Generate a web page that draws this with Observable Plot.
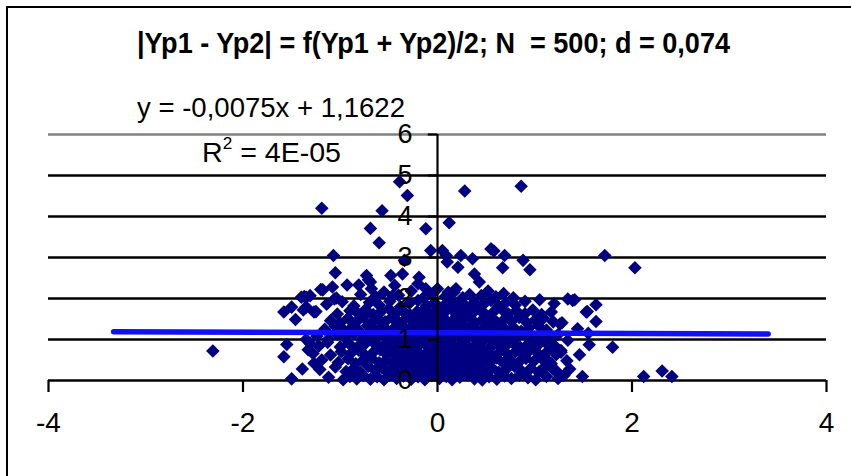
<!DOCTYPE html>
<html><head><meta charset="utf-8">
<script src="https://cdn.jsdelivr.net/npm/d3@7"></script>
<script src="https://cdn.jsdelivr.net/npm/@observablehq/plot@0.6"></script>
<style>
body{margin:0;background:#fff;}
#wrap{position:relative;width:851px;height:476px;overflow:hidden;background:#fff;font-family:"Liberation Sans",Arial,sans-serif;}
#border{position:absolute;left:6px;top:6px;width:900px;height:520px;border:2.5px solid #000;box-sizing:border-box;}
#chart{position:absolute;left:0;top:0;}
.lbl{position:absolute;white-space:nowrap;color:#000;line-height:1;transform-origin:0 0;}
.lbl sup{font-size:0.6em;line-height:0;vertical-align:0.75em;}
</style></head>
<body>
<div id="wrap">
  <div id="border"></div>
  <div id="chart"></div>
  <div id="title" class="lbl" style="left:137px;top:28.5px;font-size:29px;font-weight:bold;">|Yp1 - Yp2| = f(Yp1 + Yp2)/2; N&nbsp; = 500; d = 0,074</div>
  <div id="eq" class="lbl" style="left:137px;top:93px;font-size:28.5px;">y = -0,0075x + 1,1622</div>
  <div id="r2" class="lbl" style="left:201.5px;top:138px;font-size:28.5px;">R<sup>2</sup> = 4E-05</div>
</div>
<script>
// axis ticks
const xTicks = [-4, -2, 0, 2, 4];
const yTicks = [0, 1, 2, 3, 4, 5, 6];
const gridLines = [0, 1, 2, 3, 4, 5];
// linear trendline (from the chart's equation)
const slope = -0.0075;
const intercept = 1.1622;
const trendRange = [-3.33, 3.40];

// outlying / edge points
const edgePoints = [
[-2.31,0.72],[-1.19,4.2],[-0.39,4.85],[-0.31,4.51],[-0.57,4.14],[-0.69,3.71],[-0.6,3.36],[-0.12,3.7],[0.12,3.85],[0.28,4.62],[0.86,4.74],
[-1.07,3.05],[-1.05,2.63],[-0.07,3.17],[0.05,3.17],[0.09,3.05],[0.1,2.89],[0.24,3.05],[0.36,2.97],[0.21,2.76],[0.55,3.21],[0.58,3.16],[0.69,3.05],[0.67,2.75],[0.88,2.93],[0.95,2.7],[1.72,3.05],[2.03,2.75],
[-0.34,2.93],[-0.36,2.6],[-0.19,2.52],[-0.2,2.36],[-0.12,2.24],[0.0,2.24],[0.11,2.15],[0.19,2.24],[0.38,2.6],[0.43,2.4],
[-0.73,2.56],[-0.71,2.46],[-0.69,2.4],[-0.93,2.33],[-0.81,2.33],[-1.08,2.28],[-1.2,2.22],[-1.06,1.99],[-0.68,2.24],[-0.63,2.03],[-0.48,2.56],[-0.44,2.32],[-0.46,2.07],
[-1.37,2.05],[-1.35,1.79],[-1.27,1.67],[-1.58,1.67],[-1.5,1.79],[-1.46,1.49],[-1.4,2.03],[-1.35,2.03],[-1.38,1.72],[-1.55,0.88],[-1.58,0.58],[-1.5,0.04],[-1.39,0.28],[-1.35,1.0],[-1.31,2.07],[-1.25,1.68],[-1.31,0.9],[-1.33,0.75],[-1.27,0.42],[-1.18,2.21],
[1.05,1.97],[1.17,1.67],[1.26,1.38],[1.34,1.99],[1.27,0.69],[1.15,0.45],[1.22,0.24],[1.39,1.95],[1.53,1.67],[1.63,1.85],[1.63,1.44],[1.44,1.26],[1.55,1.15],[1.34,0.98],[1.56,0.87],[1.8,0.81],[1.46,0.63],[1.36,0.28],[1.49,0.1],[2.12,0.1],[2.31,0.23],[2.41,0.1],[1.28,1.41],[1.41,1.97],[1.54,1.68],[1.27,0.73]
];

// main cloud of points
const cloudPoints = [
[-1.12,0.08],[-0.97,0.02],[-0.9,0.1],[-0.83,0.04],[-0.76,0.12],[-0.69,0.03],[-0.62,0.09],[-0.55,0.02],[-0.49,0.13],[-0.42,0.05],[-0.35,0.11],[-0.27,0.03],[-0.2,0.09],[-0.13,0.02],[-0.06,0.12],[0.02,0.05],[0.09,0.1],[0.15,0.02],[0.23,0.08],[0.31,0.13],[0.38,0.04],[0.46,0.01],[0.53,0.09],[0.61,0.03],[0.69,0.11],[0.76,0.05],[0.84,0.13],[0.93,0.07],[1.01,0.02],[1.12,0.1],[1.24,0.05],[1.3,0.12],
[-1.21,0.27],[-1.05,0.33],[-0.94,0.22],[-0.86,0.3],[-0.79,0.2],[-0.71,0.35],[-0.64,0.24],[-0.57,0.31],[-0.51,0.21],[-0.44,0.29],[-0.37,0.36],[-0.3,0.23],[-0.23,0.32],[-0.16,0.2],[-0.09,0.28],[-0.03,0.35],[0.05,0.22],[0.12,0.3],[0.19,0.36],[0.26,0.21],[0.34,0.27],[0.41,0.34],[0.48,0.23],[0.56,0.31],[0.63,0.2],[0.71,0.28],[0.79,0.35],[0.87,0.22],[0.96,0.3],[1.04,0.2],[1.1,0.33],[1.19,0.27],
[-1.19,0.5],[-1.02,0.44],[-0.92,0.53],[-0.84,0.41],[-0.77,0.49],[-0.68,0.55],[-0.6,0.43],[-0.53,0.5],[-0.46,0.42],[-0.39,0.54],[-0.32,0.46],[-0.25,0.4],[-0.18,0.52],[-0.11,0.45],[-0.04,0.55],[0.03,0.42],[0.1,0.49],[0.17,0.41],[0.24,0.53],[0.31,0.46],[0.39,0.4],[0.46,0.51],[0.54,0.44],[0.61,0.55],[0.68,0.42],[0.75,0.5],[0.83,0.43],[0.91,0.54],[0.99,0.47],[1.08,0.52],[1.17,0.41],[1.33,0.48],
[-1.28,0.66],[-1.1,0.62],[-0.99,0.7],[-0.9,0.64],[-0.81,0.74],[-0.74,0.61],[-0.66,0.69],[-0.59,0.75],[-0.52,0.63],[-0.45,0.71],[-0.38,0.6],[-0.31,0.68],[-0.24,0.74],[-0.17,0.62],[-0.1,0.7],[-0.02,0.65],[0.06,0.73],[0.13,0.61],[0.2,0.69],[0.28,0.75],[0.35,0.63],[0.42,0.71],[0.5,0.66],[0.57,0.6],[0.65,0.72],[0.72,0.64],[0.8,0.7],[0.88,0.62],[0.95,0.74],[1.03,0.67],[1.13,0.71],[1.22,0.63],
[-1.22,0.84],[-1.13,0.93],[-1.0,0.82],[-0.91,0.9],[-0.83,0.8],[-0.75,0.88],[-0.67,0.95],[-0.6,0.83],[-0.53,0.91],[-0.46,0.8],[-0.39,0.87],[-0.32,0.94],[-0.25,0.82],[-0.18,0.9],[-0.11,0.84],[-0.04,0.95],[0.04,0.81],[0.11,0.89],[0.18,0.83],[0.25,0.92],[0.33,0.8],[0.4,0.88],[0.47,0.95],[0.55,0.82],[0.62,0.9],[0.7,0.84],[0.77,0.93],[0.85,0.81],[0.93,0.89],[1.02,0.83],[1.1,0.95],[1.2,0.86],
[-1.24,1.08],[-1.12,1.01],[-1.03,1.12],[-0.95,1.04],[-0.86,1.14],[-0.78,1.0],[-0.7,1.09],[-0.63,1.03],[-0.56,1.13],[-0.49,1.01],[-0.42,1.1],[-0.35,1.05],[-0.28,1.15],[-0.21,1.02],[-0.14,1.11],[-0.07,1.04],[0.01,1.13],[0.08,1.0],[0.15,1.08],[0.22,1.14],[0.3,1.03],[0.37,1.11],[0.44,1.0],[0.52,1.09],[0.59,1.15],[0.66,1.02],[0.74,1.1],[0.81,1.04],[0.89,1.13],[0.97,1.0],[1.06,1.08],[1.15,1.02],[1.24,1.12],
[-1.16,1.25],[-1.05,1.32],[-0.96,1.22],[-0.88,1.3],[-0.8,1.2],[-0.72,1.34],[-0.65,1.24],[-0.58,1.31],[-0.51,1.21],[-0.44,1.29],[-0.37,1.35],[-0.3,1.23],[-0.23,1.3],[-0.16,1.2],[-0.09,1.27],[-0.02,1.34],[0.06,1.22],[0.13,1.29],[0.2,1.21],[0.27,1.33],[0.34,1.25],[0.42,1.2],[0.49,1.31],[0.56,1.24],[0.64,1.35],[0.71,1.22],[0.78,1.3],[0.86,1.2],[0.94,1.28],[1.04,1.33],[1.12,1.23],
[-1.1,1.46],[-1.0,1.4],[-0.92,1.52],[-0.83,1.44],[-0.76,1.55],[-0.68,1.41],[-0.61,1.49],[-0.54,1.43],[-0.47,1.54],[-0.4,1.42],[-0.33,1.5],[-0.26,1.45],[-0.19,1.55],[-0.12,1.41],[-0.05,1.48],[0.03,1.53],[0.1,1.42],[0.17,1.5],[0.24,1.44],[0.32,1.55],[0.39,1.4],[0.46,1.48],[0.54,1.53],[0.61,1.42],[0.69,1.5],[0.76,1.44],[0.84,1.54],[0.92,1.41],[1.0,1.47],[1.09,1.52],[1.19,1.43],
[-1.03,1.62],[-0.9,1.7],[-0.82,1.64],[-0.74,1.73],[-0.66,1.61],[-0.58,1.68],[-0.5,1.75],[-0.43,1.63],[-0.36,1.71],[-0.28,1.6],[-0.21,1.68],[-0.14,1.74],[-0.07,1.62],[0.0,1.7],[0.07,1.65],[0.14,1.75],[0.21,1.61],[0.28,1.69],[0.36,1.64],[0.43,1.73],[0.5,1.6],[0.58,1.68],[0.66,1.74],[0.73,1.62],[0.81,1.7],[0.9,1.63],[0.98,1.72],[1.07,1.61],
[-1.14,1.86],[-0.98,1.92],[-0.86,1.82],[-0.7,1.9],[-0.6,1.84],[-0.49,1.93],[-0.38,1.8],[-0.29,1.88],[-0.2,1.95],[-0.11,1.83],[-0.03,1.9],[0.06,1.81],[0.14,1.94],[0.22,1.86],[0.3,1.8],[0.38,1.91],[0.47,1.85],[0.55,1.95],[0.63,1.82],[0.7,1.89],[0.8,1.84],[0.9,1.93],[1.2,1.88],
[-1.04,2.01],[-0.79,2.1],[-0.64,2.04],[-0.55,2.16],[-0.4,2.08],[-0.27,2.18],[-0.14,2.03],[-0.05,2.12],[0.08,2.05],[0.17,2.15],[0.26,2.02],[0.33,2.1],[0.45,2.07],[0.52,2.18],[0.6,2.04],[0.68,2.12],[0.78,2.02],
[-0.48,0.15],[-0.4,0.17],[-0.28,0.14],[-0.2,0.18],[-0.1,0.16],[0.0,0.14],[0.07,0.17],[0.18,0.15],[0.3,0.17],[0.4,0.15],[0.5,0.16],
[-0.45,0.37],[-0.34,0.38],[-0.22,0.38],[-0.12,0.37],[-0.01,0.39],[0.09,0.38],[0.2,0.37],[0.3,0.39],[0.45,0.37],
[-0.42,0.58],[-0.3,0.57],[-0.19,0.58],[-0.06,0.57],[0.06,0.58],[0.16,0.57],[0.27,0.58],[0.38,0.57],[0.48,0.58],
[-0.47,0.77],[-0.35,0.78],[-0.22,0.77],[-0.08,0.78],[0.02,0.77],[0.14,0.78],[0.29,0.77],[0.44,0.78],
[-0.4,0.97],[-0.26,0.98],[-0.16,0.97],[-0.02,0.98],[0.11,0.97],[0.26,0.98],[0.4,0.97],[0.56,0.98],
[-0.45,1.17],[-0.33,1.18],[-0.19,1.17],[-0.05,1.18],[0.1,1.17],[0.24,1.18],[0.38,1.17],[0.5,1.18],
[-0.38,1.37],[-0.22,1.38],[-0.08,1.37],[0.07,1.38],[0.22,1.37],[0.36,1.38],[0.52,1.37],
[-0.3,1.57],[-0.12,1.58],[0.05,1.57],[0.2,1.58],[0.33,1.57],
[0.0,1.78],[0.18,1.77],[0.35,1.78]
];

const points = cloudPoints.concat(edgePoints).map(([x, y]) => ({x, y}));
const trend = trendRange.map(x => ({x, y: slope * x + intercept}));
const yTickMarks = yTicks.map(y => ({y, x1: -0.095, x2: 0}));

const chart = Plot.plot({
  width: 851, height: 476,
  marginLeft: 48, marginRight: 25, marginTop: 134, marginBottom: 96,
  x: {domain: [-4, 4]},
  y: {domain: [0, 6], axis: null},
  style: {background: "transparent", fontFamily: "Liberation Sans, Arial, sans-serif", fontSize: "27px", color: "black", overflow: "visible"},
  marks: [
    Plot.ruleY(gridLines, {stroke: "black", strokeWidth: 2.4}),
    Plot.ruleY([yTicks[yTicks.length - 1]], {stroke: "#808080", strokeWidth: 2.4}),
    Plot.dot(points, {x: "x", y: "y", symbol: "diamond2", r: 6.1, fill: "#000080", stroke: "none"}),
    Plot.line(trend, {x: "x", y: "y", stroke: "#1010ff", strokeWidth: 5.5}),
    Plot.ruleX([0], {y1: 0, y2: 6, stroke: "black", strokeWidth: 2.2}),
    Plot.ruleY(yTickMarks, {y: "y", x1: "x1", x2: "x2", stroke: "black", strokeWidth: 2.2}),
    Plot.text(yTicks, {x: () => 0, y: d => d, text: d => String(d), textAnchor: "end", dx: -25, fontSize: 27, fill: "black"}),
    Plot.axisX(xTicks, {tickSize: 12, tickPadding: 20, fontSize: 28, strokeWidth: 2.2, tickFormat: d => String(d), stroke: "black", fill: "black"})
  ]
});
document.getElementById("chart").appendChild(chart);

// fit annotation text widths to the reference layout
const targetWidths = {title: 593, eq: 268, r2: 139};
for (const [id, w] of Object.entries(targetWidths)) {
  const el = document.getElementById(id);
  const cur = el.getBoundingClientRect().width;
  el.style.transform = `scaleX(${w / cur})`;
}
</script>
</body></html>
